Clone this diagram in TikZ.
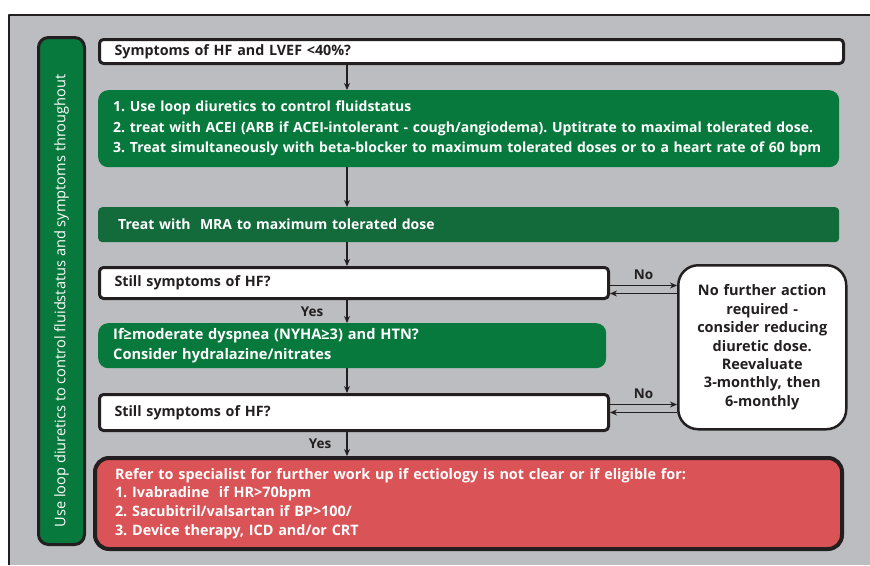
\documentclass[tikz,border=0pt]{standalone}
\usepackage{fontspec}
\setmainfont{Open Sans}
\usetikzlibrary{positioning,arrows.meta}
\definecolor{bggray}{HTML}{BCBDC0}
\definecolor{fgreen}{HTML}{08793D}
\definecolor{dgreen}{HTML}{136B3C}
\definecolor{fred}{HTML}{DA5356}
\definecolor{ink}{HTML}{231F20}
\tikzset{
  box/.style={anchor=north west, inner xsep=15pt, inner ysep=0pt, align=left,
    font=\bfseries\fontsize{14}{20.5}\selectfont},
  qbox/.style={box, draw=ink, line width=3pt, fill=white, text=ink, rounded corners=4pt,
    font=\bfseries\fontsize{14.3}{17}\selectfont},
  gbox/.style={box, fill=fgreen, text=white, rounded corners=10pt},
  rbox/.style={box, draw=ink, line width=4pt, fill=fred, text=white, rounded corners=14pt,
    inner xsep=20pt, font=\bfseries\fontsize{14.4}{18.7}\selectfont},
  endbox/.style={draw=ink, line width=2.5pt, fill=white, text=ink, rounded corners=20pt,
    align=center, anchor=north west, inner sep=0pt,
    font=\bfseries\fontsize{14.5}{18.4}\selectfont},
  sidebar/.style={draw=ink, line width=3pt, fill=fgreen, text=white, rounded corners=10pt,
    rotate=90, inner sep=0pt, font=\fontsize{14.6}{16}\selectfont},
  lbl/.style={text=ink, font=\bfseries\fontsize{13.5}{15}\selectfont, inner sep=1pt},
  arr/.style={->, draw=ink, line width=1.3pt}
}
\begin{document}
\frenchspacing
\begin{tikzpicture}[x=1pt, y=-1pt, line join=round, >={Stealth[length=7pt,width=6pt]}]
\useasboundingbox (0,0) rectangle (870,565);
\fill[bggray] (9,15) rectangle (870,565);
\draw[line width=1.5pt, ink] (9,565) -- (9,15) -- (870,15);
% side bar
\node[sidebar, minimum width=507pt, minimum height=46pt] (side) at (61.5,291)
  {Use loop diuretics to control fluidstatus and symptoms throughout\hspace*{20pt}};
% main column
\node[qbox, text width=714pt, minimum height=24pt] (q1) at (98,38) {Symptoms of HF and LVEF <40\%?};
\node[gbox, text width=711pt, minimum height=77pt] (s1) at (98,90)
  {1. Use loop diuretics to control fluidstatus\\
   2. treat with ACEI (ARB if ACEI-intolerant - cough/angiodema). Uptitrate to maximal tolerated dose.\\
   3. Treat simultaneously with beta-blocker to maximum tolerated doses or to a heart rate of 60 bpm};
\node[gbox, fill=dgreen, rounded corners=4pt, inner xsep=20pt, text width=701pt, minimum height=35pt] (s2) at (98,207)
  {Treat with \ MRA to maximum tolerated dose};
\node[qbox, text width=479pt, minimum height=31pt] (q2) at (98,266) {Still symptoms of HF?};
\node[gbox, text width=478pt, minimum height=45pt, font=\bfseries\fontsize{14.6}{20.5}\selectfont] (s3) at (98,323)
  {If≥moderate dyspnea (NYHA≥3) and HTN?\\Consider hydralazine/nitrates};
\node[qbox, text width=479pt, minimum height=36pt] (q3) at (98,393) {Still symptoms of HF?};
\node[rbox, text width=707pt, minimum height=91pt] (r1) at (93,456)
  {Refer to specialist for further work up if ectiology is not clear or if eligible for:\\
   1. Ivabradine \ if HR>70bpm\\
   2. Sacubitril/valsartan if BP>100/\\
   3. Device therapy, ICD and/or CRT};
\node[endbox, text width=168pt, minimum height=164pt] (n1) at (677,264)
  {No further action\\required -\\consider reducing\\diuretic dose.\\Reevaluate\\3-monthly, then\\6-monthly};
% connectors
\coordinate (ax) at (347,0);
\draw[arr] (q1.south -| ax) -- (s1.north -| ax);
\draw[arr] (s1.south -| ax) -- (s2.north -| ax);
\draw[arr] (s2.south -| ax) -- (q2.north -| ax);
\draw[arr] (q2.south -| ax) -- node[lbl, left=22pt] {Yes} (s3.north -| ax);
\draw[arr] (s3.south -| ax) -- (q3.north -| ax);
\draw[arr] (q3.south -| ax) -- node[lbl, left=14pt] {Yes} (r1.north -| ax);
\draw[arr] ([yshift=-2.5pt]q2.east) -- node[lbl, above=4pt] {No} ([yshift=-2.5pt]q2.east -| n1.west);
\draw[arr] ([yshift=-10.5pt]q2.east -| n1.west) -- ([yshift=-10.5pt]q2.east);
\draw[arr] ([yshift=8pt]q3.east) -- node[lbl, above=4pt] {No} ([yshift=8pt]q3.east -| n1.west);
\draw[arr] (q3.east -| n1.west) -- (q3.east);
\end{tikzpicture}
\end{document}
